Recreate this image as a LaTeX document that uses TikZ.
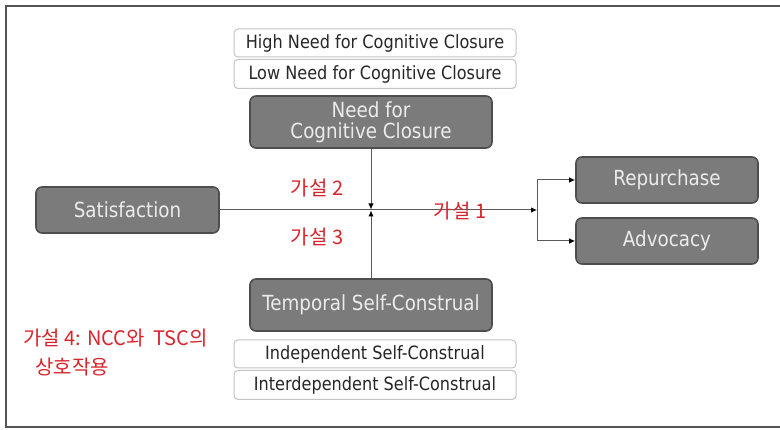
\documentclass[tikz,border=0pt]{standalone}
\usepackage{fontspec}
\setmainfont{DejaVu Sans}[FakeStretch=0.88]
\newfontfamily\kofont{Noto Sans CJK KR}
\usetikzlibrary{arrows.meta}
\definecolor{boxfill}{HTML}{7B7B7B}
\definecolor{boxline}{HTML}{4E4E4E}
\definecolor{boxtext}{HTML}{ECECEC}
\definecolor{wline}{HTML}{C4C4C4}
\definecolor{conncol}{HTML}{5A5A5A}
\definecolor{hred}{HTML}{D8252B}
\definecolor{framecol}{HTML}{555555}
\begin{document}
\begin{tikzpicture}[x=1pt,y=-1pt,
  darkbox/.style={draw=boxline,line width=1.6pt,fill=boxfill,rounded corners=6pt,
    text=boxtext,align=center,inner sep=0pt,font=\fontsize{20.8}{21}\selectfont},
  whitebox/.style={draw=wline,line width=1pt,fill=white,rounded corners=4pt,
    text=black!85,inner sep=0pt,minimum width=282pt,font=\fontsize{18.3}{20}\selectfont},
  conn/.style={draw=conncol,line width=1pt,-{Latex[length=6pt,width=5.5pt,color=black]}},
  hyp/.style={text=hred,inner sep=0pt,font=\kofont\fontsize{20}{22}\selectfont}]
\useasboundingbox (0,0) rectangle (780,430);
\draw[framecol,line width=2.5pt] (781,6) -- (6,6) -- (6,427) -- (781,427);
% white boxes
\node[whitebox,minimum height=28pt] (high) at (375,43) {High Need for Cognitive Closure};
\node[whitebox,minimum height=29pt] (low) at (375,74) {Low Need for Cognitive Closure};
\node[whitebox,minimum height=28pt] (ind) at (375,354) {Independent Self-Construal};
\node[whitebox,minimum height=29pt] (inter) at (375,385) {Interdependent Self-Construal};
% dark boxes
\node[darkbox,minimum width=242pt,minimum height=52pt] (ncc) at (371,122) {Need for\\Cognitive Closure};
\node[darkbox,minimum width=242pt,minimum height=52pt] (tsc) at (371,305) {Temporal Self-Construal};
\node[darkbox,minimum width=183pt,minimum height=46pt] (sat) at (127.5,210) {Satisfaction};
\node[darkbox,minimum width=182pt,minimum height=46pt] (rep) at (667,180) {Repurchase};
\node[darkbox,minimum width=182pt,minimum height=46pt] (adv) at (667,241) {Advocacy};
% connectors
\coordinate (br) at (537,210);
\coordinate (jn) at (371,209.5);
\coordinate (js) at (371,210.5);
\draw[conn] (sat.east) -- (br);
\draw[conn] (br) |- (rep.west);
\draw[conn] (br) |- (adv.west);
\draw[conn] (ncc.south) -- (jn);
\draw[conn] (tsc.north) -- (js);
% hypotheses
\node[hyp] (h2) at (317,188) {가설 2};
\node[hyp] (h3) at (317,237) {가설 3};
\node[hyp] (h1) at (460,211) {가설 1};
\node[hyp,anchor=west] (h4) at (23,338) {가설 4: NCC와\ \ TSC의};
\node[hyp,anchor=west] (h4b) at (35,367) {상호작용};
\end{tikzpicture}
\end{document}
